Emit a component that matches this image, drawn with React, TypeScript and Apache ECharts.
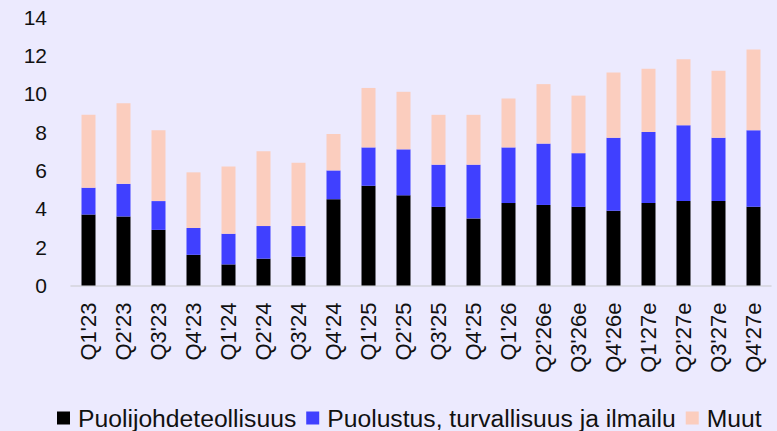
import React, { useEffect, useRef } from "react";
import * as echarts from "echarts";

const categories = [
  "Q1'23", "Q2'23", "Q3'23", "Q4'23",
  "Q1'24", "Q2'24", "Q3'24", "Q4'24",
  "Q1'25", "Q2'25", "Q3'25", "Q4'25",
  "Q1'26", "Q2'26e", "Q3'26e", "Q4'26e",
  "Q1'27e", "Q2'27e", "Q3'27e", "Q4'27e",
];

const semiconductor = [3.7, 3.6, 2.9, 1.6, 1.1, 1.4, 1.5, 4.5, 5.2, 4.7, 4.1, 3.5, 4.3, 4.2, 4.1, 3.9, 4.3, 4.4, 4.4, 4.1];
const defence = [1.4, 1.7, 1.5, 1.4, 1.6, 1.7, 1.6, 1.5, 2.0, 2.4, 2.2, 2.8, 2.9, 3.2, 2.8, 3.8, 3.7, 3.95, 3.3, 4.0];
const other = [3.8, 4.2, 3.7, 2.9, 3.5, 3.9, 3.3, 1.9, 3.1, 3.0, 2.6, 2.6, 2.55, 3.1, 3.0, 3.4, 3.3, 3.45, 3.5, 4.2];

const seriesNames = ["Puolijohdeteollisuus", "Puolustus, turvallisuus ja ilmailu", "Muut"];
const colors = ["#000000", "#4040FF", "#FBCDBE"];

export default function App() {
  const ref = useRef<HTMLDivElement>(null);
  useEffect(() => {
    if (!ref.current) return;
    const chart = echarts.init(ref.current, undefined, { renderer: "svg" });
    const font = "'Liberation Sans', Arial, sans-serif";
    const data = [semiconductor, defence, other];
    chart.setOption({
      animation: false,
      backgroundColor: "#ECEAFE",
      textStyle: { fontFamily: font },
      grid: { left: 71, right: 6, top: 17, bottom: 145.5, containLabel: false },
      legend: {
        left: 57,
        top: 405,
        padding: 0,
        itemWidth: 13,
        itemHeight: 13,
        itemGap: 10,
        icon: "rect",
        textStyle: {
          fontSize: 24.7,
          lineHeight: 26,
          color: "#111111",
          fontFamily: font,
          padding: [0, 0, 0, 3],
        },
        data: seriesNames,
      },
      xAxis: {
        type: "category",
        data: categories,
        axisLine: { show: true, lineStyle: { color: "#D4D4DC", width: 1.5 } },
        axisTick: { show: false },
        axisLabel: {
          rotate: 90,
          interval: 0,
          margin: 17,
          fontSize: 22,
          color: "#111111",
          fontFamily: font,
        },
      },
      yAxis: {
        type: "value",
        min: 0,
        max: 14,
        interval: 2,
        axisLine: { show: false },
        axisTick: { show: false },
        splitLine: { show: false },
        axisLabel: { fontSize: 21, color: "#111111", margin: 24, fontFamily: font },
      },
      series: seriesNames.map((name, i) => ({
        name,
        type: "bar",
        stack: "total",
        barWidth: 14,
        data: data[i],
        itemStyle: { color: colors[i] },
      })),
    });
    return () => chart.dispose();
  }, []);
  return (
    <div
      ref={ref}
      style={{ position: "fixed", left: 0, top: 0, width: 777, height: 431 }}
    />
  );
}
